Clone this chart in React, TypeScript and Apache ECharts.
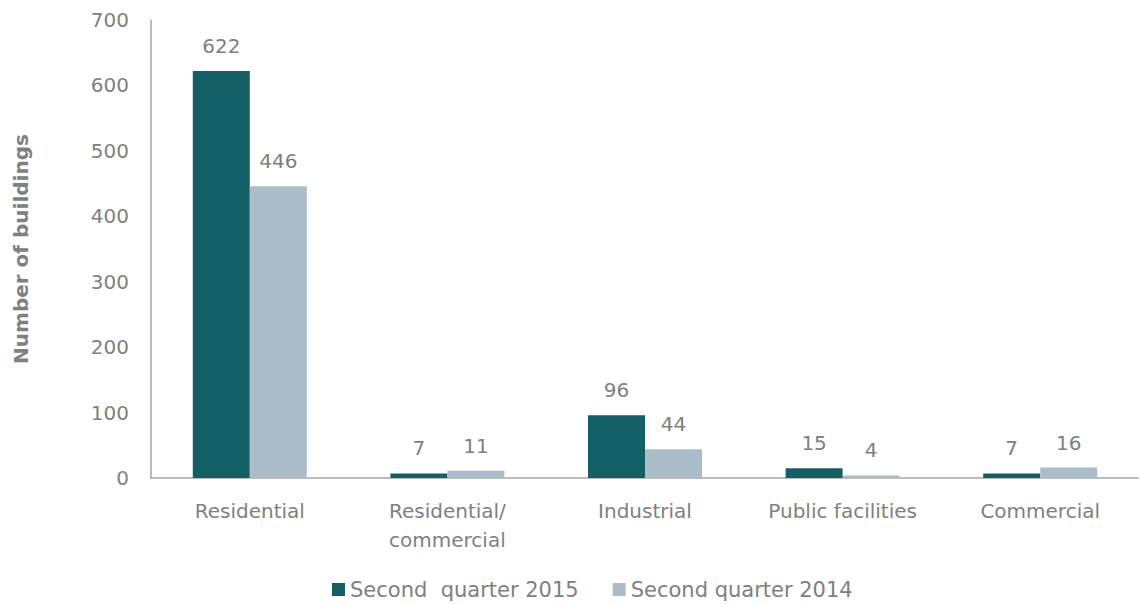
import React, { useEffect, useRef } from "react";
import * as echarts from "echarts";

const categories = ["Residential", "Residential/\ncommercial", "Industrial", "Public facilities", "Commercial"];
const series2015 = [622, 7, 96, 15, 7];
const series2014 = [446, 11, 44, 4, 16];
const seriesNames = ["Second  quarter 2015", "Second quarter 2014"];
const yTicks = { min: 0, max: 700, interval: 100 };

const FONT = "DejaVu Sans";
const GRAY = "#808080";
const FS = 20;

export default function App() {
  const ref = useRef<HTMLDivElement>(null);
  useEffect(() => {
    const chart = echarts.init(ref.current!, null, { renderer: "svg" });
    const label = {
      show: true,
      position: "top",
      distance: 15,
      color: GRAY,
      fontFamily: FONT,
      fontSize: FS,
    };
    chart.setOption({
      animation: false,
      textStyle: { fontFamily: FONT },
      grid: { left: 143, right: 0, top: 12, height: 458, containLabel: false, outerBoundsMode: "none" },
      legend: {
        top: 566,
        left: 319,
        itemWidth: 13,
        itemHeight: 13,
        itemGap: 34,
        icon: "rect",
        textStyle: { color: GRAY, fontFamily: FONT, fontSize: 21 },
        data: seriesNames,
      },
      xAxis: {
        type: "category",
        data: categories,
        axisLine: { lineStyle: { color: "#a6a6a6", width: 1.5 } },
        axisTick: { show: false },
        axisLabel: { color: GRAY, fontFamily: FONT, fontSize: FS, margin: 18, lineHeight: 29, interval: 0 },
      },
      yAxis: {
        type: "value",
        min: yTicks.min,
        max: yTicks.max,
        interval: yTicks.interval,
        name: "Number of buildings",
        nameLocation: "middle",
        nameGap: 120,
        nameTextStyle: { color: GRAY, fontFamily: FONT, fontSize: FS, fontWeight: "bold" },
        axisLine: { show: true, lineStyle: { color: "#a6a6a6", width: 1.5 } },
        axisTick: { show: false },
        splitLine: { show: false },
        axisLabel: { color: GRAY, fontFamily: FONT, fontSize: FS, margin: 22 },
      },
      series: [
        {
          name: seriesNames[0],
          type: "bar",
          data: series2015,
          barWidth: 57,
          barGap: "0%",
          itemStyle: { color: "#135f66" },
          label,
        },
        {
          name: seriesNames[1],
          type: "bar",
          data: series2014,
          barWidth: 57,
          itemStyle: { color: "#a9bec8" },
          label,
        },
      ],
    });
    return () => chart.dispose();
  }, []);
  return <div ref={ref} style={{ width: 1131, height: 596 }} />;
}
